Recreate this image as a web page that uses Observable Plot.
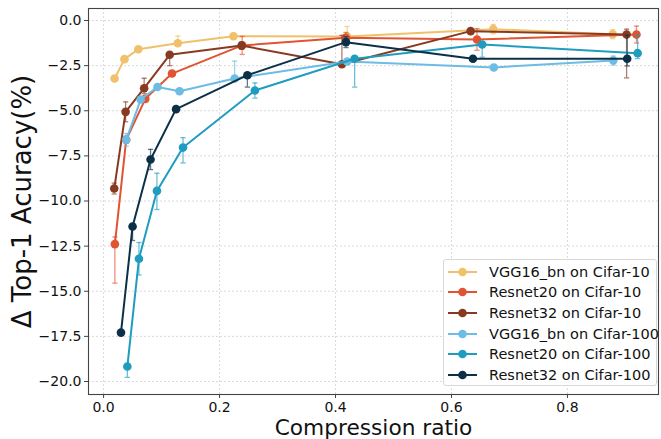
<!DOCTYPE html>
<html>
<head>
<meta charset="utf-8">
<script src="https://cdn.jsdelivr.net/npm/d3@7"></script>
<script src="https://cdn.jsdelivr.net/npm/@observablehq/plot@0.6"></script>
<style>
  body { margin: 0; background: #fff; }
  #wrap { position: relative; width: 661px; height: 439px; font-family: "DejaVu Sans", sans-serif; }
  #legend { position: absolute; left: 443px; top: 259px; width: 214px; height: 127px; border: 1px solid #d8d8d8; border-radius: 3px; background: rgba(255,255,255,0.85); box-sizing: border-box; }
  .row { position: absolute; left: 3px; height: 20px; display: flex; align-items: center; font-size: 14.5px; color: #111; white-space: nowrap; }
  .row svg { margin-right: 11px; }
</style>
</head>
<body>
<div id="wrap"></div>
<script>
// ---- data ----
const seriesNames = ["VGG16_bn on Cifar-10", "Resnet20 on Cifar-10", "Resnet32 on Cifar-10",
                     "VGG16_bn on Cifar-100", "Resnet20 on Cifar-100", "Resnet32 on Cifar-100"];
const seriesColors = ["#f0c06a", "#e05433", "#873a20", "#6cbce4", "#1f9cc0", "#0b3048"];

const ratio_vgg10  = [0.019, 0.036, 0.060, 0.128, 0.224, 0.420, 0.672, 0.878];
const acc_vgg10    = [-3.21, -2.14, -1.59, -1.26, -0.87, -0.89, -0.48, -0.76];
const errLo_vgg10  = [0.05, 0.15, 0.05, 0.1, 0.05, 0.1, 0.26, 0.25];
const errHi_vgg10  = [0.05, 0.05, 0.05, 0.4, 0.05, 0.56, 0.26, 0.25];

const ratio_r20c10 = [0.0195, 0.039, 0.072, 0.118, 0.239, 0.418, 0.644, 0.919];
const acc_r20c10   = [-12.39, -6.61, -4.34, -2.94, -1.38, -0.96, -1.05, -0.78];
const errLo_r20c10 = [2.16, 0.2, 0.1, 0.1, 0.5, 0.3, 0.6, 0.47];
const errHi_r20c10 = [0.4, 0.2, 0.1, 0.1, 0.5, 0.3, 0.6, 0.47];

const ratio_r32c10 = [0.0184, 0.038, 0.070, 0.114, 0.238, 0.411, 0.633, 0.902];
const acc_r32c10   = [-9.31, -5.06, -3.75, -1.90, -1.39, -2.42, -0.59, -0.78];
const errLo_r32c10 = [0.3, 0.55, 0.3, 0.6, 0.2, 0.1, 0.1, 2.4];
const errHi_r32c10 = [0.3, 0.55, 0.55, 0.1, 0.2, 1.6, 0.1, 0.3];

const ratio_vgg100  = [0.039, 0.064, 0.093, 0.131, 0.226, 0.420, 0.673, 0.879];
const acc_vgg100    = [-6.61, -4.38, -3.68, -3.92, -3.21, -2.27, -2.60, -2.22];
const errLo_vgg100  = [0.35, 0.1, 0.1, 0.1, 0.1, 0.1, 0.1, 0.25];
const errHi_vgg100  = [0.35, 0.1, 0.1, 0.1, 0.96, 0.1, 0.1, 0.25];

const ratio_r20c100 = [0.041, 0.061, 0.092, 0.137, 0.261, 0.433, 0.653, 0.921];
const acc_r20c100   = [-19.17, -13.2, -9.44, -7.04, -3.88, -2.12, -1.33, -1.81];
const errLo_r20c100 = [0.6, 0.9, 1.03, 0.85, 0.42, 1.57, 0.7, 0.3];
const errHi_r20c100 = [0.1, 0.9, 0.98, 0.55, 0.42, 0.1, 0.1, 1.0];

const ratio_r32c100 = [0.030, 0.050, 0.081, 0.125, 0.248, 0.418, 0.637, 0.903];
const acc_r32c100   = [-17.29, -11.41, -7.70, -4.91, -3.03, -1.20, -2.12, -2.12];
const errLo_r32c100 = [0.05, 0.78, 0.56, 0.1, 0.66, 0.3, 0.1, 0.4];
const errHi_r32c100 = [0.05, 0.1, 0.56, 0.1, 0.1, 0.3, 0.1, 1.3];

const xTicks = [0.0, 0.2, 0.4, 0.6, 0.8];
const yTicks = [0.0, -2.5, -5.0, -7.5, -10.0, -12.5, -15.0, -17.5, -20.0];

const seriesData = [
  [ratio_vgg10, acc_vgg10, errLo_vgg10, errHi_vgg10],
  [ratio_r20c10, acc_r20c10, errLo_r20c10, errHi_r20c10],
  [ratio_r32c10, acc_r32c10, errLo_r32c10, errHi_r32c10],
  [ratio_vgg100, acc_vgg100, errLo_vgg100, errHi_vgg100],
  [ratio_r20c100, acc_r20c100, errLo_r20c100, errHi_r20c100],
  [ratio_r32c100, acc_r32c100, errLo_r32c100, errHi_r32c100]
];

// ---- build tidy tables ----
const tables = seriesData.map(([xs, ys, lo, hi], i) =>
  xs.map((x, j) => ({series: seriesNames[i], x, y: ys[j], ylo: ys[j] - lo[j], yhi: ys[j] + hi[j]})));

const capHalf = 0.0045;
const fmt = d => d3.format(".1f")(d).replace("-", "\u2212");

const marks = [
  Plot.gridX(xTicks, {stroke: "#d0d0d0", strokeOpacity: 1, strokeDasharray: "2,2", strokeWidth: 0.8}),
  Plot.gridY(yTicks, {stroke: "#d0d0d0", strokeOpacity: 1, strokeDasharray: "2,2", strokeWidth: 0.8}),
];
tables.forEach((t, i) => {
  const c = seriesColors[i];
  marks.push(
    Plot.line(t, {x: "x", y: "y", stroke: c, strokeWidth: 2}),
    Plot.ruleX(t, {x: "x", y1: "ylo", y2: "yhi", stroke: c, strokeOpacity: 0.65, strokeWidth: 1.3}),
    Plot.link(t, {x1: d => d.x - capHalf, x2: d => d.x + capHalf, y1: "ylo", y2: "ylo", stroke: c, strokeOpacity: 0.65, strokeWidth: 1.3}),
    Plot.link(t, {x1: d => d.x - capHalf, x2: d => d.x + capHalf, y1: "yhi", y2: "yhi", stroke: c, strokeOpacity: 0.65, strokeWidth: 1.3}),
    Plot.dot(t, {x: "x", y: "y", fill: c, r: 4.3})
  );
});
marks.push(
  Plot.frame({stroke: "#444", strokeWidth: 1.1}),
  Plot.axisX({ticks: xTicks, tickFormat: fmt, tickSize: 4, tickPadding: 4, label: null, fontSize: 14, stroke: "#444"}),
  Plot.axisY({ticks: yTicks, tickFormat: fmt, tickSize: 4, tickPadding: 3, label: null, fontSize: 14, stroke: "#444"}),
  Plot.text(["Compression ratio"], {frameAnchor: "bottom", lineAnchor: "middle", dy: 34, fontSize: 21.7, fill: "#111"}),
  Plot.text(["\u0394 Top-1 Acuracy(%)"], {frameAnchor: "left", textAnchor: "middle", rotate: -90, dx: -66, fontSize: 26, fill: "#111"})
);

const chart = Plot.plot({
  width: 661, height: 439,
  marginLeft: 88, marginRight: 3, marginTop: 8, marginBottom: 45,
  x: {domain: [-0.026, 0.957]},
  y: {domain: [-20.72, 0.665]},
  style: {fontFamily: "DejaVu Sans, sans-serif", fontSize: "14px", color: "#111", background: "#fff"},
  marks
});
const wrap = document.getElementById("wrap");
wrap.appendChild(chart);

// ---- legend ----
const legend = document.createElement("div");
legend.id = "legend";
seriesNames.forEach((name, i) => {
  const row = document.createElement("div");
  row.className = "row";
  row.style.top = (1.5 + i * 20.7) + "px";
  row.innerHTML = `<svg width="31" height="20"><line x1="1" x2="30" y1="10" y2="10" stroke="${seriesColors[i]}" stroke-width="2"/><circle cx="15.5" cy="10" r="4.3" fill="${seriesColors[i]}"/></svg><span>${name}</span>`;
  legend.appendChild(row);
});
wrap.appendChild(legend);
</script>
</body>
</html>
